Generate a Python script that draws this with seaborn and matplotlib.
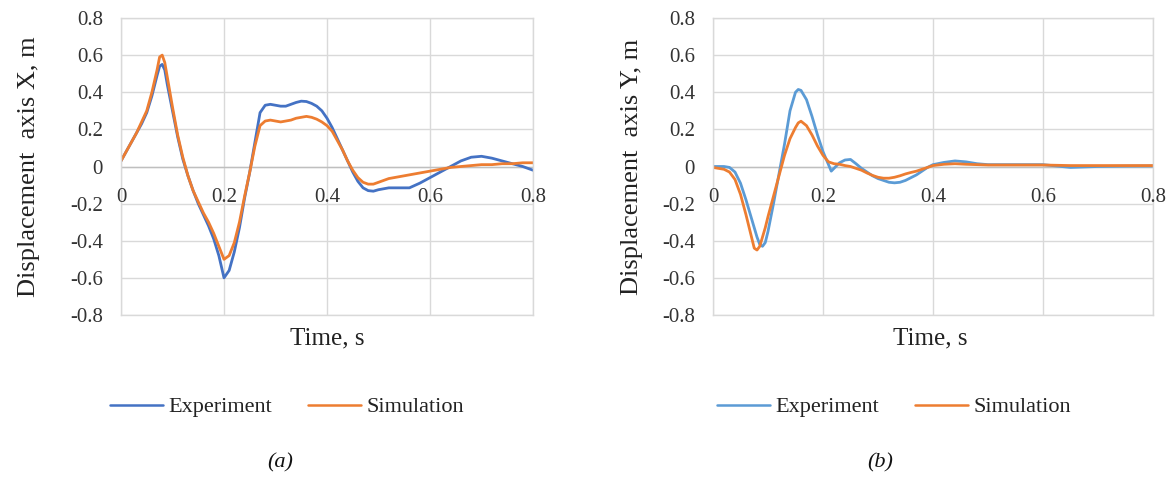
import numpy as np
import pandas as pd
import matplotlib
matplotlib.use("Agg")
import matplotlib.pyplot as plt
import seaborn as sns
from matplotlib.lines import Line2D

# ---- Panel (a): displacement along X ----
t_x = [0, 0.01, 0.02, 0.03, 0.04, 0.05, 0.06, 0.07, 0.075, 0.08, 0.085, 0.09,
       0.10, 0.11, 0.12, 0.13, 0.14, 0.15, 0.16, 0.17, 0.18, 0.19, 0.20, 0.21,
       0.22, 0.23, 0.24, 0.25, 0.26, 0.27, 0.28, 0.29, 0.30, 0.31, 0.32, 0.33,
       0.34, 0.35, 0.36, 0.37, 0.38, 0.39, 0.40, 0.41, 0.42, 0.43, 0.44, 0.45,
       0.46, 0.47, 0.48, 0.49, 0.50, 0.52, 0.54, 0.56, 0.58, 0.60, 0.62, 0.64,
       0.66, 0.68, 0.70, 0.72, 0.74, 0.76, 0.78, 0.80]
exp_x = [0.03, 0.08, 0.13, 0.18, 0.23, 0.29, 0.38, 0.49, 0.54, 0.55, 0.52, 0.44,
         0.30, 0.16, 0.04, -0.05, -0.13, -0.20, -0.26, -0.32, -0.39, -0.48, -0.60, -0.56,
         -0.46, -0.33, -0.17, -0.03, 0.13, 0.29, 0.33, 0.335, 0.33, 0.325, 0.325, 0.335,
         0.345, 0.352, 0.35, 0.34, 0.325, 0.30, 0.26, 0.21, 0.15, 0.09, 0.03, -0.03,
         -0.08, -0.115, -0.13, -0.133, -0.125, -0.115, -0.115, -0.115, -0.09, -0.06, -0.03, 0.0,
         0.03, 0.05, 0.055, 0.045, 0.03, 0.015, 0.0, -0.02]
sim_x = [0.03, 0.08, 0.13, 0.18, 0.24, 0.30, 0.40, 0.52, 0.59, 0.60, 0.56, 0.48,
         0.32, 0.17, 0.05, -0.05, -0.13, -0.19, -0.25, -0.30, -0.36, -0.43, -0.50, -0.48,
         -0.41, -0.30, -0.16, -0.03, 0.11, 0.22, 0.245, 0.25, 0.245, 0.24, 0.245, 0.25,
         0.26, 0.265, 0.27, 0.265, 0.255, 0.24, 0.22, 0.19, 0.14, 0.09, 0.03, -0.02,
         -0.06, -0.085, -0.095, -0.095, -0.085, -0.065, -0.055, -0.045, -0.035, -0.025, -0.015, -0.005,
         0.0, 0.005, 0.01, 0.01, 0.015, 0.015, 0.02, 0.02]

# ---- Panel (b): displacement along Y ----
t_y = [0, 0.01, 0.02, 0.03, 0.04, 0.05, 0.06, 0.07, 0.075, 0.08, 0.085, 0.09,
       0.095, 0.10, 0.11, 0.12, 0.13, 0.14, 0.15, 0.155, 0.16, 0.17, 0.18, 0.19,
       0.20, 0.21, 0.215, 0.22, 0.23, 0.24, 0.25, 0.26, 0.27, 0.28, 0.29, 0.30,
       0.31, 0.32, 0.33, 0.34, 0.35, 0.36, 0.37, 0.38, 0.39, 0.40, 0.42, 0.44,
       0.46, 0.48, 0.50, 0.55, 0.60, 0.65, 0.70, 0.75, 0.80]
exp_y = [0.0, 0.0, 0.0, -0.005, -0.03, -0.09, -0.18, -0.28, -0.33, -0.38, -0.42, -0.43,
         -0.41, -0.35, -0.20, -0.04, 0.12, 0.30, 0.40, 0.415, 0.41, 0.36, 0.27, 0.17,
         0.08, 0.01, -0.025, -0.01, 0.02, 0.035, 0.038, 0.015, -0.01, -0.03, -0.05, -0.065,
         -0.075, -0.085, -0.088, -0.085, -0.075, -0.06, -0.045, -0.025, -0.005, 0.01, 0.022, 0.03,
         0.025, 0.015, 0.01, 0.01, 0.01, -0.005, 0.0, 0.002, 0.003]
sim_y = [-0.005, -0.01, -0.015, -0.03, -0.07, -0.15, -0.26, -0.38, -0.44, -0.45, -0.43, -0.38,
         -0.33, -0.27, -0.16, -0.05, 0.06, 0.15, 0.21, 0.235, 0.244, 0.22, 0.17, 0.11,
         0.06, 0.025, 0.02, 0.015, 0.012, 0.005, 0.0, -0.01, -0.02, -0.035, -0.048, -0.058,
         -0.063, -0.063, -0.058, -0.05, -0.04, -0.032, -0.025, -0.015, -0.005, 0.005, 0.012, 0.015,
         0.012, 0.01, 0.008, 0.008, 0.008, 0.005, 0.005, 0.005, 0.005]

series_names = ["Experiment", "Simulation"]
x_ticks = [0, 0.2, 0.4, 0.6, 0.8]
x_tick_labels = ["0", "0.2", "0.4", "0.6", "0.8"]
y_ticks = [-0.8, -0.6, -0.4, -0.2, 0, 0.2, 0.4, 0.6, 0.8]
y_tick_labels = ["-0.8", "-0.6", "-0.4", "-0.2", "0", "0.2", "0.4", "0.6", "0.8"]
y_labels = ["Displacement  axis X, m", "Displacement  axis Y, m"]
x_label = "Time, s"
captions = ["(a)", "(b)"]

sns.set_theme(style="white")
plt.rcParams["font.family"] = ["Liberation Serif", "DejaVu Serif"]

fig = plt.figure(figsize=(11.71, 4.79), dpi=100)
W, H = 1171, 479

def px_axes(x0, x1, y0, y1):
    return fig.add_axes([x0 / W, 1 - y1 / H, (x1 - x0) / W, (y1 - y0) / H])

ax_a = px_axes(121, 533, 18, 315)
ax_b = px_axes(713, 1153, 18, 315)

panels = [
    (ax_a, t_x, exp_x, sim_x, "#4472C4", y_labels[0], 29, 327, 287, captions[0], 280),
    (ax_b, t_y, exp_y, sim_y, "#5B9BD5", y_labels[1], 632, 930, 894, captions[1], 880),
]

grid_col = "#D9D9D9"
for ax, t, e, s, blue, ylab, ylab_x, xlab_x, leg_x, cap, cap_x in panels:
    df = pd.DataFrame({
        "t": list(t) + list(t),
        "v": list(e) + list(s),
        "series": [series_names[0]] * len(t) + [series_names[1]] * len(t),
    })
    palette = {series_names[0]: blue, series_names[1]: "#ED7D31"}
    sns.lineplot(data=df, x="t", y="v", hue="series", palette=palette,
                 linewidth=2.0, legend=False, ax=ax, sort=False)

    ax.set_xlim(0, 0.8)
    ax.set_ylim(-0.8, 0.8)
    ax.set_xticks(x_ticks)
    ax.set_yticks(y_ticks)
    ax.set_xticklabels([])
    ax.set_yticklabels(y_tick_labels, fontsize=15, color="#333333")
    ax.tick_params(axis="both", length=0)
    ax.tick_params(axis="y", pad=13)
    for sp in ax.spines.values():
        sp.set_visible(True)
        sp.set_color(grid_col)
        sp.set_linewidth(1.0)
    ax.grid(True, color=grid_col, linewidth=1.0)
    ax.axhline(0, color="#BFBFBF", linewidth=1.0, zorder=1)
    ax.set_axisbelow(True)
    ax.set_xlabel("")
    ax.set_ylabel("")

    # x tick labels sit just below the zero line
    for tv, tl in zip(x_ticks, x_tick_labels):
        ax.annotate(tl, xy=(tv, 0), xytext=(0, -22.5), textcoords="offset points",
                    ha="center", va="center", fontsize=15, color="#333333")

    fig.text(ylab_x / W, 1 - 167 / H, ylab, rotation=90, ha="center", va="center",
             fontsize=19, color="#222222")
    fig.text(xlab_x / W, 1 - 338 / H, x_label, ha="center", va="center",
             fontsize=18, color="#222222")

    handles = [Line2D([], [], color=blue, linewidth=1.8),
               Line2D([], [], color="#ED7D31", linewidth=1.8)]
    fig.legend(handles, series_names, loc="center", bbox_to_anchor=(leg_x / W, 1 - 407 / H),
               ncol=2, frameon=False, fontsize=16, handlelength=2.4, handletextpad=0.25,
               columnspacing=1.6, labelcolor="#222222")

    fig.text(cap_x / W, 1 - 463 / H, cap, ha="center", va="center", fontsize=16,
             style="italic", color="#111111")

fig.savefig("out.png", dpi=100)
